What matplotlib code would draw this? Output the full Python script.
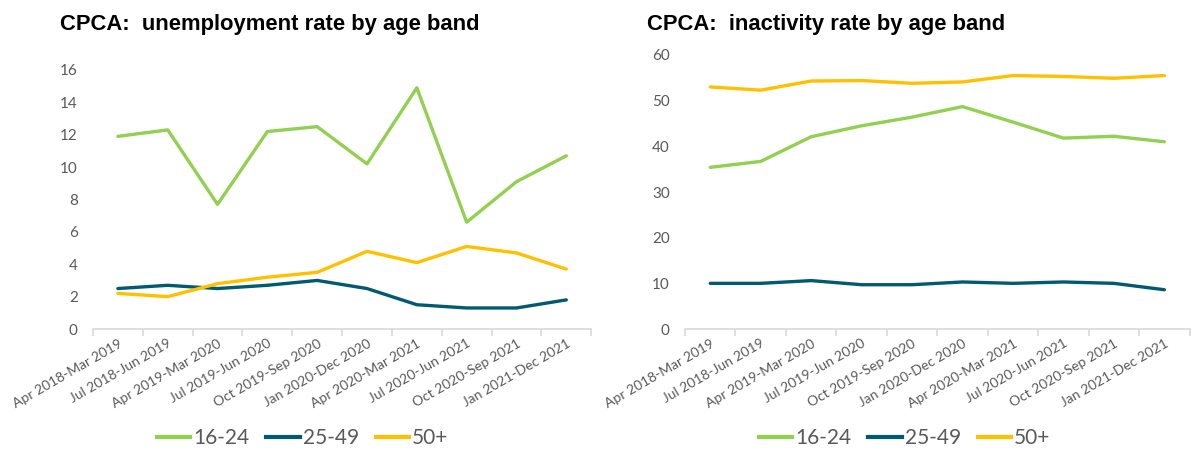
import matplotlib
matplotlib.use("Agg")
import matplotlib.pyplot as plt
from matplotlib.lines import Line2D

categories = ["Apr 2018-Mar 2019", "Jul 2018-Jun 2019", "Apr 2019-Mar 2020",
              "Jul 2019-Jun 2020", "Oct 2019-Sep 2020", "Jan 2020-Dec 2020",
              "Apr 2020-Mar 2021", "Jul 2020-Jun 2021", "Oct 2020-Sep 2021",
              "Jan 2021-Dec 2021"]
series_names = ["16-24", "25-49", "50+"]

unemp_16_24 = [11.9, 12.3, 7.7, 12.2, 12.5, 10.2, 14.9, 6.6, 9.1, 10.7]
unemp_25_49 = [2.5, 2.7, 2.5, 2.7, 3.0, 2.5, 1.5, 1.3, 1.3, 1.8]
unemp_50p = [2.2, 2.0, 2.8, 3.2, 3.5, 4.8, 4.1, 5.1, 4.7, 3.7]

inact_16_24 = [35.4, 36.7, 42.1, 44.5, 46.4, 48.7, 45.3, 41.8, 42.2, 41.0]
inact_25_49 = [10.0, 10.0, 10.6, 9.7, 9.7, 10.3, 10.0, 10.3, 10.0, 8.6]
inact_50p = [53.0, 52.3, 54.3, 54.4, 53.8, 54.1, 55.5, 55.3, 54.9, 55.5]

unemp_ticks = [0, 2, 4, 6, 8, 10, 12, 14, 16]
inact_ticks = [0, 10, 20, 30, 40, 50, 60]

colors = ["#92D050", "#005A70", "#FFC000"]
gray = "#595959"
tick_font = "Lato"

fig = plt.figure(figsize=(11.92, 4.53), dpi=100)
ax1 = fig.add_axes([0.078, 0.2737, 0.418, 0.5718])
ax2 = fig.add_axes([0.5747, 0.2737, 0.4233, 0.6049])


def draw(ax, data, ticks, title, title_x, legend_x):
    x = list(range(len(categories)))
    for vals, c, name in zip(data, colors, series_names):
        ax.plot(x, vals, color=c, lw=2.4, label=name, solid_capstyle="round")
    ax.set_xlim(-0.5, len(categories) - 0.5)
    ax.set_ylim(ticks[0], ticks[-1])
    ax.set_yticks(ticks)
    ax.set_yticklabels([str(t) for t in ticks], color=gray, fontsize=11, family=tick_font)
    ax.tick_params(axis="y", length=0, pad=11)
    for s in ["top", "right", "left"]:
        ax.spines[s].set_visible(False)
    ax.spines["bottom"].set_color("#D9D9D9")
    ax.spines["bottom"].set_linewidth(1.2)
    ax.set_xticks([i - 0.5 for i in range(len(categories) + 1)], minor=False)
    ax.set_xticklabels([])
    ax.tick_params(axis="x", which="major", length=5, color="#D9D9D9", width=1.2)
    ax.set_xticks(x, minor=True)
    ax.set_xticklabels(categories, minor=True, rotation=30, ha="right",
                       rotation_mode="anchor", color=gray, fontsize=10, family=tick_font)
    ax.tick_params(axis="x", which="minor", length=0, pad=6)
    fig.text(title_x, 0.947, title, fontsize=15.8, fontweight="bold",
             family="Liberation Sans", va="center", ha="left")
    handles = [Line2D([0], [0], color=c, lw=3) for c in colors]
    leg = fig.legend(handles, series_names, loc="center", bbox_to_anchor=(legend_x, 0.033),
                     ncol=3, frameon=False, handlelength=1.6,
                     handletextpad=0.15, columnspacing=0.8,
                     prop={"family": tick_font, "size": 15})
    for t in leg.get_texts():
        t.set_color(gray)


draw(ax1, [unemp_16_24, unemp_25_49, unemp_50p], unemp_ticks,
     "CPCA:  unemployment rate by age band", 0.05, 0.254)
draw(ax2, [inact_16_24, inact_25_49, inact_50p], inact_ticks,
     "CPCA:  inactivity rate by age band", 0.543, 0.759)

fig.savefig("out.png", dpi=100)
